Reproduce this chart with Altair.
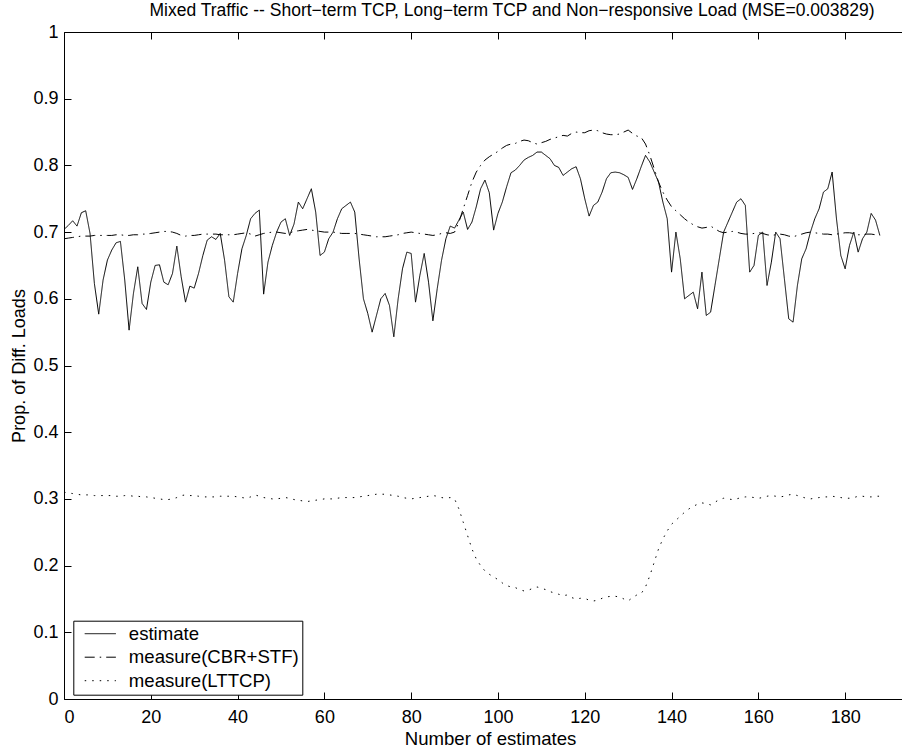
import altair as alt
import pandas as pd

series_names = ["estimate", "measure(CBR+STF)", "measure(LTTCP)"]

estimate = [
    0.704, 0.710, 0.717, 0.709, 0.729, 0.732, 0.698, 0.623, 0.577, 0.628,
    0.658, 0.673, 0.684, 0.686, 0.628, 0.553, 0.608, 0.648, 0.593, 0.584,
    0.625, 0.650, 0.651, 0.625, 0.621, 0.638, 0.679, 0.633, 0.595, 0.619,
    0.616, 0.638, 0.665, 0.688, 0.693, 0.689, 0.698, 0.658, 0.603, 0.595,
    0.638, 0.675, 0.695, 0.720, 0.728, 0.733, 0.607, 0.655, 0.680, 0.700,
    0.715, 0.720, 0.695, 0.712, 0.745, 0.735, 0.750, 0.765, 0.730, 0.665,
    0.670, 0.690, 0.700, 0.720, 0.735, 0.740, 0.745, 0.730, 0.660, 0.600,
    0.578, 0.550, 0.575, 0.600, 0.608, 0.590, 0.543, 0.600, 0.645, 0.670,
    0.668, 0.595, 0.635, 0.668, 0.625, 0.567, 0.615, 0.658, 0.690, 0.709,
    0.706, 0.718, 0.730, 0.704, 0.715, 0.738, 0.765, 0.778, 0.759, 0.703,
    0.728, 0.745, 0.768, 0.789, 0.793, 0.800, 0.808, 0.812, 0.815, 0.820,
    0.820, 0.815, 0.810, 0.800, 0.797, 0.785, 0.790, 0.795, 0.798, 0.780,
    0.750, 0.724, 0.740, 0.745, 0.760, 0.780, 0.789, 0.790, 0.789, 0.786,
    0.782, 0.764, 0.780, 0.798, 0.815, 0.805, 0.790, 0.775, 0.745, 0.720,
    0.640, 0.700, 0.660, 0.600, 0.605, 0.610, 0.585, 0.640, 0.575, 0.580,
    0.620, 0.660, 0.700, 0.715, 0.730, 0.745, 0.750, 0.740, 0.640, 0.650,
    0.695, 0.700, 0.620, 0.655, 0.700, 0.690, 0.630, 0.570, 0.565, 0.620,
    0.660, 0.675, 0.700, 0.720, 0.735, 0.760, 0.765, 0.790, 0.720, 0.665,
    0.645, 0.680, 0.700, 0.670, 0.690, 0.700, 0.728, 0.718, 0.695,
]

cbr_stf = [
    0.690, 0.691, 0.692, 0.693, 0.694, 0.694, 0.694, 0.695, 0.695, 0.695,
    0.695, 0.695, 0.696, 0.696, 0.695, 0.695, 0.696, 0.696, 0.697, 0.697,
    0.698, 0.699, 0.700, 0.701, 0.701, 0.700, 0.698, 0.695, 0.694, 0.695,
    0.695, 0.696, 0.697, 0.697, 0.697, 0.697, 0.696, 0.696, 0.696, 0.696,
    0.697, 0.698, 0.699, 0.697, 0.694, 0.696, 0.698, 0.699, 0.700, 0.700,
    0.699, 0.698, 0.699, 0.701, 0.702, 0.703, 0.704, 0.703, 0.702, 0.701,
    0.700, 0.700, 0.700, 0.699, 0.698, 0.698, 0.698, 0.698, 0.697, 0.696,
    0.695, 0.694, 0.693, 0.693, 0.693, 0.694, 0.695, 0.696, 0.698, 0.699,
    0.700, 0.699, 0.698, 0.697, 0.696, 0.695, 0.696, 0.698, 0.699, 0.698,
    0.700, 0.715, 0.735, 0.755, 0.775, 0.790, 0.800, 0.808, 0.813, 0.817,
    0.821, 0.826, 0.830, 0.832, 0.833, 0.836, 0.838, 0.837, 0.834, 0.832,
    0.834, 0.836, 0.839, 0.841, 0.843, 0.845, 0.844, 0.848, 0.850, 0.849,
    0.849, 0.852, 0.853, 0.852, 0.849, 0.847, 0.846, 0.846, 0.847, 0.850,
    0.853, 0.848, 0.844, 0.842, 0.832, 0.815, 0.795, 0.775, 0.760, 0.748,
    0.738, 0.732, 0.726, 0.720, 0.715, 0.711, 0.708, 0.706, 0.707, 0.709,
    0.705, 0.701, 0.699, 0.700, 0.701, 0.700, 0.698, 0.697, 0.697, 0.698,
    0.699, 0.698, 0.696, 0.695, 0.696, 0.697, 0.696, 0.694, 0.693, 0.695,
    0.697, 0.699, 0.700, 0.699, 0.698, 0.697, 0.697, 0.696, 0.697, 0.698,
    0.699, 0.699, 0.698, 0.696, 0.696, 0.697, 0.697, 0.696, 0.696,
]

lttcp = [
    0.310, 0.309, 0.308, 0.307, 0.306, 0.306, 0.306, 0.305, 0.305, 0.305,
    0.305, 0.305, 0.304, 0.304, 0.305, 0.305, 0.304, 0.304, 0.303, 0.303,
    0.302, 0.301, 0.300, 0.299, 0.299, 0.300, 0.302, 0.305, 0.306, 0.305,
    0.305, 0.304, 0.303, 0.303, 0.303, 0.303, 0.304, 0.304, 0.304, 0.304,
    0.303, 0.302, 0.301, 0.303, 0.306, 0.304, 0.302, 0.301, 0.300, 0.300,
    0.301, 0.302, 0.301, 0.299, 0.298, 0.297, 0.296, 0.297, 0.298, 0.299,
    0.300, 0.300, 0.300, 0.301, 0.302, 0.302, 0.302, 0.302, 0.303, 0.304,
    0.305, 0.306, 0.307, 0.307, 0.307, 0.306, 0.305, 0.304, 0.302, 0.301,
    0.300, 0.301, 0.302, 0.303, 0.304, 0.305, 0.304, 0.302, 0.301, 0.302,
    0.300, 0.285, 0.265, 0.245, 0.225, 0.210, 0.200, 0.192, 0.187, 0.183,
    0.179, 0.174, 0.170, 0.168, 0.167, 0.164, 0.162, 0.163, 0.166, 0.168,
    0.166, 0.164, 0.161, 0.159, 0.157, 0.155, 0.156, 0.152, 0.150, 0.151,
    0.151, 0.148, 0.147, 0.148, 0.151, 0.153, 0.154, 0.154, 0.153, 0.150,
    0.147, 0.152, 0.156, 0.158, 0.168, 0.185, 0.205, 0.225, 0.240, 0.252,
    0.262, 0.268, 0.274, 0.280, 0.285, 0.289, 0.292, 0.294, 0.293, 0.291,
    0.295, 0.299, 0.301, 0.300, 0.299, 0.300, 0.302, 0.303, 0.303, 0.302,
    0.301, 0.302, 0.304, 0.305, 0.304, 0.303, 0.304, 0.306, 0.307, 0.305,
    0.303, 0.301, 0.300, 0.301, 0.302, 0.303, 0.303, 0.304, 0.303, 0.302,
    0.301, 0.301, 0.302, 0.304, 0.304, 0.303, 0.303, 0.304, 0.304,
]

x_ticks = [0, 20, 40, 60, 80, 100, 120, 140, 160, 180]
y_ticks = [0, 0.1, 0.2, 0.3, 0.4, 0.5, 0.6, 0.7, 0.8, 0.9, 1]

title_text = ["Mixed Traffic -- Short\u2212term TCP, Long\u2212term TCP and "
              "Non\u2212responsive Load (MSE=0.003829)"]

rows = []
for name, vals in zip(series_names, [estimate, cbr_stf, lttcp]):
    for i, v in enumerate(vals):
        rows.append({"n": i, "p": v, "series": name})
df = pd.DataFrame(rows)

W, H = 838, 667
FONT = "Liberation Sans"
FS = 18
FS_BIG = 18.6

xscale = alt.Scale(domain=[0, 193.1], nice=False, zero=False)
yscale = alt.Scale(domain=[0, 1], nice=False, zero=False)
dash_scale = alt.Scale(domain=series_names,
                       range=[[1, 0], [10, 5, 1.5, 5], [1.5, 6]])

legend = alt.Legend(
    orient="none", legendX=9.3, legendY=588.7, title=None,
    symbolType="M-1.8,0H1.8", symbolSize=300, symbolStrokeWidth=1,
    symbolStrokeColor="black", symbolFillColor="transparent",
    strokeColor="black", fillColor="white", padding=3.5, rowPadding=3.5,
    labelFontSize=FS_BIG, labelFont=FONT, labelColor="black",
    symbolOffset=14, labelOffset=19, cornerRadius=0, labelLimit=400,
)

base = alt.Chart(df).mark_line(color="black", strokeWidth=1, clip=True)

l_est = base.transform_filter(alt.datum.series == series_names[0]).encode(
    x=alt.X("n:Q", scale=xscale, axis=alt.Axis(
        orient="bottom", values=x_ticks, ticks=False, tickSize=0,
        domain=True, domainColor="black", domainWidth=1,
        labelPadding=23, labelBaseline="alphabetic", format="d",
        title="Number of estimates", titleX=426, titleY=45,
        titleFontSize=FS_BIG,
        titleAlign="center", titleBaseline="alphabetic", grid=False)),
    y=alt.Y("p:Q", scale=yscale, axis=alt.Axis(
        orient="left", values=y_ticks, ticks=False, tickSize=0,
        domain=True, domainColor="black", domainWidth=1,
        labelPadding=6, labelAlign="right", labelBaseline="middle",
        format=".1~f", title="Prop. of Diff. Loads", titleX=-40,
        titleY=H / 2, titleAngle=270, titleAlign="center",
        titleBaseline="alphabetic", grid=False)),
    strokeDash=alt.StrokeDash("series:N", scale=dash_scale, legend=legend),
)

l_cbr = base.transform_filter(alt.datum.series == series_names[1]).encode(
    x=alt.X("n:Q", scale=xscale, axis=alt.Axis(
        orient="top", offset=-H, values=x_ticks, labels=False, domain=False,
        ticks=True, tickSize=7, tickColor="black", tickWidth=1, title=None,
        grid=False)),
    y=alt.Y("p:Q", scale=yscale, axis=alt.Axis(
        orient="right", offset=-W, values=y_ticks, labels=False,
        domain=False, ticks=True, tickSize=7, tickColor="black",
        tickWidth=1, title=None, grid=False)),
    strokeDash=alt.StrokeDash("series:N", scale=dash_scale, legend=legend),
)

l_lt = base.transform_filter(alt.datum.series == series_names[2]).encode(
    x=alt.X("n:Q", scale=xscale, axis=alt.Axis(
        orient="bottom", offset=-H, values=x_ticks, labels=False,
        domain=True, domainColor="black", domainWidth=1, ticks=True,
        tickSize=7, tickColor="black", tickWidth=1, title=None, grid=False)),
    y=alt.Y("p:Q", scale=yscale, axis=None),
    strokeDash=alt.StrokeDash("series:N", scale=dash_scale, legend=legend),
)

# chart title as a text mark placed above the plot area
l_title = alt.Chart(pd.DataFrame({"t": title_text})).mark_text(
    font=FONT, fontSize=17.5, color="black", align="center",
    baseline="alphabetic", clip=False,
).encode(text="t:N", x=alt.value(448), y=alt.value(-16))

chart = (
    alt.layer(l_est, l_cbr, l_lt, l_title)
    .resolve_axis(x="independent", y="independent")
    .properties(
        width=W, height=H, autosize="none",
        padding={"left": 64, "top": 32, "right": 0, "bottom": 49},
        background="white",
    )
    .configure_axis(labelFont=FONT, titleFont=FONT, labelFontSize=FS,
                    titleFontSize=FS, labelColor="black", titleColor="black",
                    titleFontWeight="normal")
    .configure_view(stroke=None)
)

chart.save("out.html", embed_options={"renderer": "svg", "actions": False})
